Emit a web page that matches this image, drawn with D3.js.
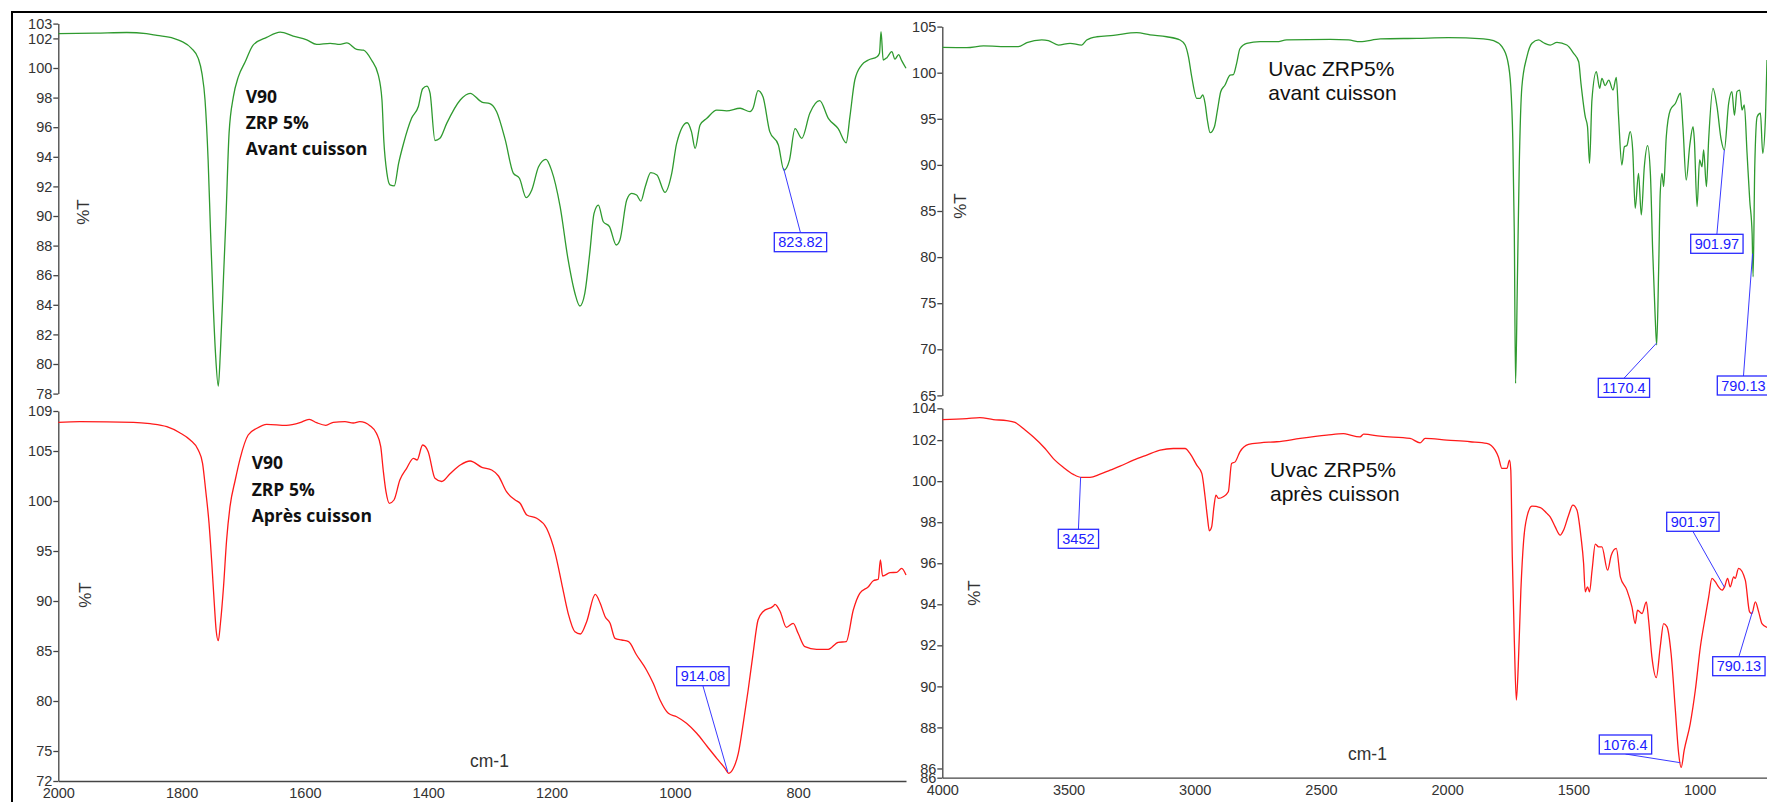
<!DOCTYPE html>
<html><head><meta charset="utf-8">
<script src="https://cdn.jsdelivr.net/npm/d3@7"></script>
<style>
body{margin:0;background:#fff;overflow:hidden}
svg{display:block}
.tick text{font-family:"Liberation Sans",Arial,sans-serif;font-size:14.5px;fill:#333}
.tick line,.domain{stroke:#444;stroke-width:1.3}
</style>
</head><body>
<svg id="c" width="1767" height="802"></svg>
<script>
// ---------- DATA (wavenumber cm-1, %T) ----------
const v90Avant = [[2000,102.32],[1940,102.35],[1889,102.4],[1857,102.32],[1840,102.2],[1813,102.0],[1800,101.8],[1784,101.33],[1773,100.65],[1767,99.64],[1762,97.84],[1757,93.8],[1753,88.85],[1749,84.3],[1745,80.7],[1740.5,78.5],[1737,80.9],[1732,85.9],[1728,89.95],[1723,95.6],[1716,98.06],[1708,99.4],[1697,100.4],[1684,101.55],[1662,102.07],[1640,102.43],[1619,102.16],[1597,101.9],[1581,101.6],[1559,101.67],[1543,101.6],[1532,101.7],[1516,101.26],[1505,101.2],[1492,100.54],[1481,99.53],[1475,97.84],[1472,95.1],[1467,92.9],[1462,92.1],[1455,92.03],[1448,93.56],[1440,94.9],[1427,96.6],[1416,97.4],[1409,98.6],[1402,98.78],[1397,98.3],[1389,95.1],[1381,95.25],[1370,96.26],[1348,97.84],[1332,98.29],[1313,97.7],[1300,97.6],[1289,97.05],[1275,95.14],[1262,92.9],[1252,92.55],[1241,91.24],[1232,91.76],[1221,93.33],[1209,93.83],[1200,93.1],[1186,90.63],[1173,87.03],[1162,84.78],[1154,83.92],[1146,84.78],[1138,87.48],[1131,90.18],[1124,90.74],[1116,89.61],[1106,89.28],[1095,88.04],[1089,88.38],[1078,91.08],[1070,91.53],[1062,91.42],[1055,91.01],[1048,91.98],[1039,92.93],[1029,92.77],[1016,91.6],[1005,92.88],[997,94.91],[980,96.3],[973,95.7],[967,94.57],[959,96.15],[948,96.6],[932,97.16],[916,97.1],[894,97.28],[878,97.05],[873,97.3],[865,98.47],[857,98.06],[846,95.7],[832,94.8],[823,93.1],[814,93.78],[805,95.9],[794,95.25],[781,96.94],[765,97.79],[751,96.6],[735,95.9],[722,94.95],[716,96.7],[708,99.19],[697,100.2],[686,100.54],[672,100.76],[668,101.0],[665.5,102.45],[662,100.54],[656,100.7],[648,101.1],[643,100.6],[637,100.9],[632,100.5],[625,99.98]];

const v90Apres = [[2000,107.87],[1965,107.93],[1878,107.87],[1851,107.73],[1824,107.43],[1803,106.83],[1786,106.1],[1773,105.1],[1766,103.77],[1761,101.1],[1755.5,97.77],[1751,93.77],[1747,89.77],[1744,87.1],[1740.5,86.03],[1737,87.77],[1732,91.43],[1727,96.1],[1721.5,99.43],[1713,102.1],[1705,104.27],[1692,106.6],[1678,107.27],[1662,107.67],[1630,107.57],[1608,107.83],[1593,108.17],[1581,107.83],[1566,107.57],[1554,107.87],[1535,107.93],[1521.5,107.8],[1511,107.93],[1494,107.5],[1484,106.77],[1477,105.43],[1473,103.1],[1468.5,100.93],[1463,99.77],[1455.5,100.1],[1446,102.1],[1435,103.27],[1424,104.27],[1418,104.1],[1409,105.6],[1400,104.93],[1389,102.27],[1378,101.95],[1365,102.7],[1348,103.6],[1332,104.0],[1313,103.37],[1297,103.1],[1286,102.5],[1273,100.93],[1259,100.1],[1251,99.77],[1240,98.6],[1224,98.27],[1208,97.27],[1194,94.77],[1183.5,91.77],[1173,88.77],[1162,86.93],[1153,86.7],[1143,87.93],[1129,90.67],[1121,89.77],[1113,88.43],[1105,87.77],[1097,86.27],[1086,86.1],[1075,85.93],[1062,84.6],[1046,83.1],[1035,81.77],[1024,80.1],[1010.5,78.77],[997,78.43],[981,77.77],[964.5,76.77],[948,75.5],[932,74.27],[918.6,73.27],[912.6,72.77],[905,73.27],[897,74.77],[889,77.77],[881,81.1],[873,84.77],[865,88.1],[857,88.93],[840,89.5],[837.5,89.67],[829,88.93],[819,87.37],[808,87.77],[800,86.77],[789,85.43],[770,85.17],[751,85.17],[735,85.87],[722,85.93],[710.5,89.1],[700,90.77],[686,91.43],[678,92.03],[670,92.17],[666.5,94.1],[663,92.5],[651,92.83],[640,92.87],[632,93.27],[625,92.6]];

const uvacAvant = [[4000,102.75],[3903,102.72],[3837,102.9],[3732,102.82],[3699,102.82],[3665,103.25],[3606,103.55],[3580,103.48],[3540,103.0],[3494,103.19],[3448,103.0],[3428,103.55],[3388,103.9],[3322,104.05],[3230,104.34],[3177,104.1],[3111,103.9],[3058,103.55],[3038,103.0],[3025,101.74],[3012,99.57],[2992,97.22],[2979,97.22],[2968,97.58],[2959,96.68],[2950,94.87],[2939,93.49],[2922,94.14],[2910,95.95],[2897,97.94],[2880,98.67],[2860,99.75],[2847,99.8],[2834,101.02],[2821,102.6],[2794,103.19],[2741,103.36],[2675,103.36],[2636,103.55],[2463,103.62],[2391,103.55],[2345,103.36],[2265,103.66],[2120,103.73],[1995,103.8],[1856,103.66],[1816,103.47],[1783,102.82],[1761,101.38],[1748,98.48],[1740,92.7],[1734,82.58],[1729,66.31],[1722,77.16],[1714.5,89.8],[1704,98.48],[1684,101.74],[1664,103.19],[1638,103.55],[1618,103.25],[1592,103.0],[1565,103.29],[1526,103.0],[1499,102.1],[1479,101.19],[1470,98.85],[1453,95.23],[1444,94.14],[1436,90.17],[1426.5,97.04],[1409,100.11],[1396,98.31],[1387,99.39],[1374,98.6],[1360,99.2],[1343,98.12],[1330,99.5],[1321,95.23],[1308,89.99],[1298,91.97],[1288,92.1],[1275,93.6],[1265,91.62],[1255,85.29],[1242,89.09],[1231,84.57],[1219,89.8],[1206,92.1],[1195,89.09],[1186,80.77],[1176,73.54],[1170,70.47],[1162,78.96],[1156,86.92],[1149,89.09],[1142.5,87.64],[1132,93.06],[1116,95.95],[1096,96.66],[1076,97.77],[1066,94.14],[1053,88.36],[1039,92.1],[1026,94.14],[1021,92.8],[1010,85.47],[1000,90.53],[990.5,89.8],[984,91.62],[973,87.64],[964,92.8],[947,98.31],[931,96.31],[915,92.8],[902,91.62],[885,96.66],[872,97.94],[862,95.37],[852,97.94],[841,98.12],[832,95.95],[823,96.5],[812,91.26],[801.5,86.19],[792,82.58],[788,77.87],[781.5,89.8],[772,95.23],[759,95.6],[750,91.26],[739,95.23],[733,101.38]];

const uvacApres = [[4000,103.0],[3903,103.05],[3851,103.1],[3798,103.0],[3745,102.95],[3712,102.86],[3672,102.49],[3640,102.16],[3593,101.59],[3560,101.1],[3520,100.67],[3481,100.33],[3448,100.18],[3415,100.18],[3375,100.34],[3335,100.54],[3296,100.73],[3243,101.02],[3190,101.27],[3137,101.51],[3085,101.59],[3038,101.59],[3019,101.35],[2992,100.78],[2972,100.38],[2959,99.24],[2950,98.26],[2942,97.58],[2933,97.77],[2924,98.75],[2916,99.32],[2906,99.16],[2887,99.24],[2867,99.48],[2854,100.86],[2840,100.94],[2821,101.43],[2787,101.79],[2741,101.87],[2675,101.92],[2582,102.08],[2477,102.24],[2411,102.32],[2398,102.29],[2345,102.16],[2331,102.29],[2265,102.19],[2147,102.08],[2107,101.87],[2087,102.08],[2001,102.0],[1909,101.92],[1843,101.84],[1810,101.51],[1797,101.18],[1783,100.62],[1763.5,100.62],[1753,101.02],[1748,100.54],[1742,96.31],[1734,92.25],[1726,89.33],[1718.5,90.95],[1708,94.69],[1697,97.12],[1684,98.26],[1664,98.78],[1631,98.71],[1605,98.43],[1592,98.26],[1572,97.77],[1552,97.37],[1539,97.61],[1519,98.34],[1502,98.83],[1486,98.59],[1470,97.29],[1459.5,95.99],[1453,94.61],[1444,94.85],[1436,94.61],[1426,95.66],[1413,96.93],[1400,96.8],[1387,96.8],[1364.5,95.66],[1350,96.39],[1330,96.72],[1314,95.34],[1288,94.69],[1268,93.87],[1255,93.06],[1246,93.71],[1228,93.55],[1211,94.12],[1202,93.22],[1189,91.44],[1171.5,90.43],[1156,91.92],[1142.5,93.06],[1129,92.9],[1113,91.6],[1096,88.84],[1083,86.73],[1073,86.05],[1061,86.89],[1037,88.19],[1017,89.81],[997,91.92],[977.5,93.39],[964,94.36],[951,95.26],[938,95.1],[925,94.85],[911,94.69],[901,94.85],[889,95.26],[879,94.85],[865,95.34],[859,95.26],[845.5,95.75],[819,95.18],[802,93.63],[793,93.55],[779,94.12],[766,93.63],[753,93.06],[733,92.87]];

// tick values
const yTicksV90Avant = [78,80,82,84,86,88,90,92,94,96,98,100,102,103];
const yTicksV90Apres = [72,75,80,85,90,95,100,105,109];
const yTicksUvacAvant = [65,70,75,80,85,90,95,100,105];
const yTicksUvacApres = [85.55,86,88,90,92,94,96,98,100,102,103.55];
const xTicksV90 = [2000,1800,1600,1400,1200,1000,800];
const xTicksUvac = [4000,3500,3000,2500,2000,1500,1000];

// titles
const titleV90Avant = ["V90","ZRP 5%","Avant cuisson"];
const titleV90Apres = ["V90","ZRP 5%","Après cuisson"];
const titleUvacAvant = ["Uvac ZRP5%","avant cuisson"];
const titleUvacApres = ["Uvac ZRP5%","après cuisson"];

// peak annotations: [panel index, wavenumber, label]
const peaks = [[0,823.82,"823.82"],[1,914.08,"914.08"],[2,1170.4,"1170.4"],[2,901.97,"901.97"],[2,790.13,"790.13"],[3,3452,"3452"],[3,901.97,"901.97"],[3,790.13,"790.13"],[3,1076.4,"1076.4"]];

// ---------- LAYOUT ----------
const svg = d3.select("#c");
const panels = [
  {data:v90Avant, color:"#2f9a2f", xDom:[2000,625], xR:[58.3,906], yDom:[78,103], yR:[393.6,23.6], yT:yTicksV90Avant, xT:null,
   title:titleV90Avant, tPos:[245.7,102.7], tStep:26.2, tFont:"bold 17.5px 'Open Sans',sans-serif", yl:[85,212], cm:null},
  {data:v90Apres, color:"#ff1a1a", xDom:[2000,625], xR:[58.3,906], yDom:[72,109], yR:[781,411], yT:yTicksV90Apres, xT:xTicksV90,
   title:titleV90Apres, tPos:[251.7,469.3], tStep:26.5, tFont:"bold 17.5px 'Open Sans',sans-serif", yl:[87,595], cm:[470,767]},
  {data:uvacAvant, color:"#2f9a2f", xDom:[4000,733], xR:[942.3,1767], yDom:[65,105], yR:[395.4,26.6], yT:yTicksUvacAvant, xT:null,
   title:titleUvacAvant, tPos:[1268.3,76], tStep:24, tFont:"21px 'Liberation Sans',Arial,sans-serif", yl:[962,206], cm:null},
  {data:uvacApres, color:"#ff1a1a", xDom:[4000,733], xR:[942.3,1767], yDom:[85.55,103.55], yR:[777.7,408.3], yT:yTicksUvacApres, xT:xTicksUvac,
   title:titleUvacApres, tPos:[1270,476.7], tStep:24, tFont:"21px 'Liberation Sans',Arial,sans-serif", yl:[976,593], cm:[1348,760]}
];
// annotation box placement [left, top, leader from 'top'|'bottom']
const annoBoxes = [[774.3,232.7,"top"],[676.7,666.7,"bottom"],[1598.3,378.3,"top"],[1690.7,234.3,"top"],[1717.3,376,"top"],[1058.3,529.3,"top"],[1666.7,512.3,"bottom"],[1712.7,656.7,"top"],[1599.3,735,"bottom"]];

// frame
svg.append("line").attr("x1",11).attr("x2",1767).attr("y1",12).attr("y2",12).attr("stroke","#000").attr("stroke-width",2);
svg.append("line").attr("x1",12).attr("x2",12).attr("y1",11).attr("y2",802).attr("stroke","#000").attr("stroke-width",2);

function interp(data, wn){
  for(let i=0;i<data.length-1;i++){
    const a=data[i], b=data[i+1];
    if(wn<=a[0] && wn>=b[0]){ const t=(a[0]-wn)/(a[0]-b[0]); return a[1]+t*(b[1]-a[1]); }
  }
  return data[data.length-1][1];
}

panels.forEach(p=>{
  p.x = d3.scaleLinear().domain(p.xDom).range(p.xR);
  p.y = d3.scaleLinear().domain(p.yDom).range(p.yR);
  const ya = svg.append("g").attr("transform",`translate(${p.xR[0]},0)`)
    .call(d3.axisLeft(p.y).tickValues(p.yT).tickFormat(d=>Math.round(d)).tickSizeInner(5).tickSizeOuter(0).tickPadding(1));
  if(p.xT){
    svg.append("g").attr("transform",`translate(0,${p.yR[0]})`)
      .call(d3.axisBottom(p.x).tickValues(p.xT).tickFormat(d3.format("d")).tickSizeInner(0).tickSizeOuter(0).tickPadding(7));
  }
  const line = d3.line().x(d=>p.x(d[0])).y(d=>p.y(d[1])).curve(d3.curveMonotoneX);
  svg.append("path").datum(p.data).attr("d",line).attr("fill","none").attr("stroke",p.color).attr("stroke-width",1.3);
  // %T
  svg.append("text").attr("transform",`translate(${p.yl[0]},${p.yl[1]}) rotate(-90)`).attr("text-anchor","middle")
    .attr("dominant-baseline","middle").style("font","17px 'Liberation Sans',Arial,sans-serif").attr("fill","#333").text("%T");
  if(p.cm){
    svg.append("text").attr("x",p.cm[0]).attr("y",p.cm[1]).style("font","17.5px 'Liberation Sans',Arial,sans-serif").attr("fill","#333").text("cm-1");
  }
  p.title.forEach((t,i)=>{
    svg.append("text").attr("x",p.tPos[0]).attr("y",p.tPos[1]+i*p.tStep).style("font",p.tFont).attr("fill","#111").text(t);
  });
});

peaks.forEach((pk,i)=>{
  const p = panels[pk[0]];
  const px = p.x(pk[1]), py = p.y(interp(p.data, pk[1]));
  const [bx,by,side] = annoBoxes[i];
  const g = svg.append("g");
  const txt = g.append("text").attr("x",bx+4).attr("y",by+14.6)
    .style("font","14.5px 'Liberation Sans',Arial,sans-serif").attr("fill","#2020ff").text(pk[2]);
  const w = txt.node().getComputedTextLength()+8;
  const ax = bx + w/2, ay = side==="top" ? by : by+19;
  g.insert("line","text").attr("x1",ax).attr("y1",ay).attr("x2",px).attr("y2",py).attr("stroke","#3a3aff").attr("stroke-width",1);
  g.insert("rect","text").attr("x",bx).attr("y",by).attr("width",w).attr("height",19).attr("fill","#fff").attr("stroke","#2a2aff").attr("stroke-width",1.3);
});
</script>
</body></html>
